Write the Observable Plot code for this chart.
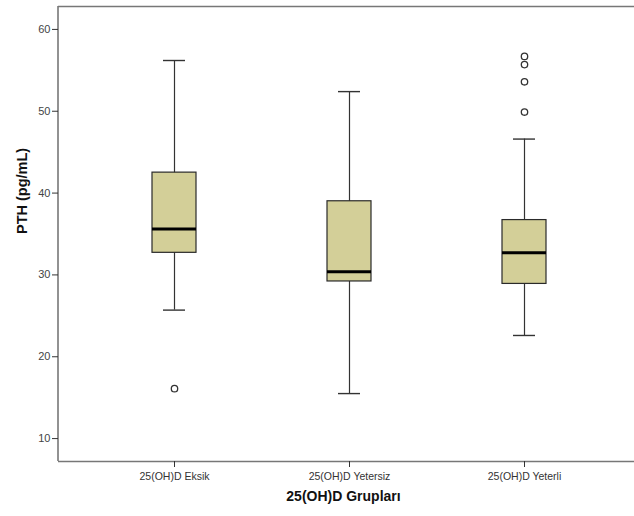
<!DOCTYPE html>
<html>
<head>
<meta charset="utf-8">
<script src="https://cdn.jsdelivr.net/npm/d3@7"></script>
<script src="https://cdn.jsdelivr.net/npm/@observablehq/plot@0.6"></script>
<style>
  html, body { margin: 0; padding: 0; background: #fff; overflow: hidden; }
  svg { display: block; font-family: "Liberation Sans", Arial, sans-serif; }
</style>
</head>
<body>
<div id="chart"></div>
<script>
const groups = ["25(OH)D Eksik", "25(OH)D Yetersiz", "25(OH)D Yeterli"];
const whiskerLow = [25.7, 15.5, 22.6];
const q1 = [32.7, 29.2, 28.9];
const median = [35.6, 30.4, 32.7];
const q3 = [42.5, 39.0, 36.7];
const whiskerHigh = [56.2, 52.4, 46.6];
const outlierGroups = ["25(OH)D Eksik", "25(OH)D Yeterli", "25(OH)D Yeterli", "25(OH)D Yeterli", "25(OH)D Yeterli"];
const outlierValues = [16.1, 56.7, 55.7, 53.6, 49.9];
const yTicks = [10, 20, 30, 40, 50, 60];
const yDomain = [7.2, 62.8];

const boxes = groups.map((g, i) => ({
  group: g, lo: whiskerLow[i], q1: q1[i], med: median[i], q3: q3[i], hi: whiskerHigh[i]
}));
const outliers = outlierGroups.map((g, i) => ({group: g, value: outlierValues[i]}));

const ink = "#333";
const leftEdge = (index, scales, values, dimensions) => {
  const {marginLeft, marginTop, height, marginBottom} = dimensions;
  return d3.create("svg:line")
    .attr("x1", marginLeft).attr("x2", marginLeft)
    .attr("y1", marginTop).attr("y2", height - marginBottom)
    .attr("stroke", "#777").attr("stroke-width", 1.6)
    .node();
};

const chart = Plot.plot({
  width: 634,
  height: 516,
  marginTop: 6,
  marginBottom: 55,
  marginLeft: 58,
  marginRight: 0,
  style: {fontFamily: "'Liberation Sans', Arial, sans-serif", background: "#fff"},
  x: {domain: groups, range: [58, 640], paddingInner: 0.7486, paddingOuter: 0.537, align: 0.5},
  y: {domain: yDomain},
  marks: [
    leftEdge,
    Plot.ruleY(yDomain, {stroke: "#777", strokeWidth: 1.6}),
    Plot.ruleX(boxes, {x: "group", y1: "lo", y2: "hi", stroke: ink, strokeWidth: 1.2}),
    Plot.tickY(boxes, {x: "group", y: "lo", stroke: ink, strokeWidth: 1.4, insetLeft: 11, insetRight: 11}),
    Plot.tickY(boxes, {x: "group", y: "hi", stroke: ink, strokeWidth: 1.4, insetLeft: 11, insetRight: 11}),
    Plot.barY(boxes, {x: "group", y1: "q1", y2: "q3", fill: "#d3cf98", stroke: "#2a2a2a", strokeWidth: 1.2}),
    Plot.tickY(boxes, {x: "group", y: "med", stroke: "#000", strokeWidth: 3}),
    Plot.dot(outliers, {x: "group", y: "value", r: 3.2, fill: "#fff", stroke: ink, strokeWidth: 1.3}),
    Plot.axisY({ticks: yTicks, tickSize: 6, tickPadding: 2, fontSize: 11, label: null, stroke: ink, color: "#444"}),
    Plot.axisX({tickSize: 6, tickPadding: 5, fontSize: 10.5, label: null, stroke: ink, color: "#333"}),
    Plot.text(["PTH (pg/mL)"], {frameAnchor: "left", dx: -36, rotate: -90, fontWeight: "bold", fontSize: 14.5, fill: "#111"}),
    Plot.text(["25(OH)D Grupları"], {frameAnchor: "bottom", dy: 39, dx: -3, fontWeight: "bold", fontSize: 14, fill: "#111"})
  ]
});
document.getElementById("chart").append(chart);
</script>
</body>
</html>
